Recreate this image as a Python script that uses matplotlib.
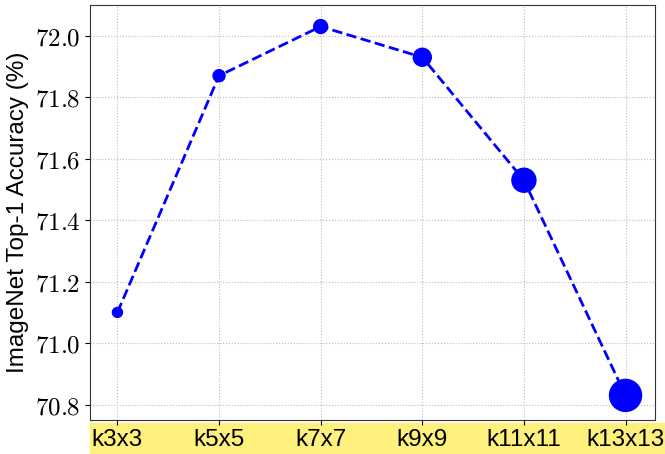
import matplotlib
matplotlib.use("Agg")
import matplotlib.pyplot as plt
from matplotlib.patches import Rectangle
from matplotlib.ticker import FuncFormatter

kernels = ["k3x3", "k5x5", "k7x7", "k9x9", "k11x11", "k13x13"]
acc = [71.10, 71.87, 72.03, 71.93, 71.53, 70.83]
sizes = [52, 75, 100, 168, 298, 530]
yticks = [70.8, 71.0, 71.2, 71.4, 71.6, 71.8, 72.0]

plt.rcParams["mathtext.fontset"] = "cm"

fig = plt.figure(figsize=(6.65, 4.54), dpi=100)
ax = fig.add_axes([90 / 665, 34 / 454, 565 / 665, 415 / 454])
ax.set_zorder(2)

x = list(range(len(kernels)))
ax.plot(x, acc, color="blue", linestyle="--", linewidth=2, zorder=2)
ax.scatter(x, acc, s=sizes, color="blue", zorder=3)

ax.set_xlim(-0.27, 5.29)
ax.set_ylim(70.75, 72.10)
ax.set_xticks(x)
ax.set_xticklabels(kernels, fontsize=17.5, family="Liberation Sans")
ax.set_yticks(yticks)
ax.yaxis.set_major_formatter(FuncFormatter(lambda v, p: r"$%.1f$" % v))
ax.tick_params(axis="y", labelsize=18)
ax.tick_params(axis="x", pad=3)
ax.set_ylabel("ImageNet Top-1 Accuracy (%)", fontsize=17.5, family="Liberation Sans")
ax.grid(True, linestyle=":", color="#bbbbbb", linewidth=0.8)
for s in ax.spines.values():
    s.set_color("#333333")

band = Rectangle((90 / 665, 0), 575 / 665, 31 / 454,
                 transform=fig.transFigure, color="#fdf07c", zorder=-1)
fig.patches.append(band)

fig.savefig("out.png", dpi=100)
